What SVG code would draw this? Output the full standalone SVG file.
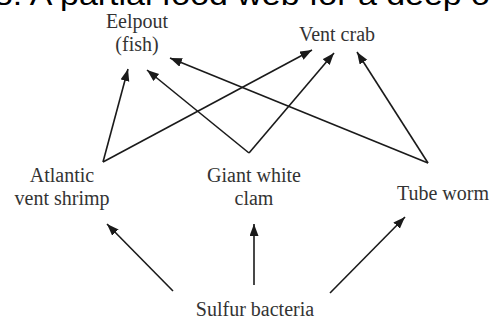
<svg xmlns="http://www.w3.org/2000/svg" width="493" height="322" viewBox="0 0 493 322">
<style>
.lbl{font-family:"Liberation Serif","Times New Roman",serif;font-size:20px;fill:#333;text-anchor:middle}
.hd{font-family:"Liberation Sans",Arial,sans-serif;font-size:30px;fill:#000}
.edge{stroke:#1a1a1a;stroke-width:1.6;fill:none}
</style>
<defs>
<marker id="ah" markerUnits="userSpaceOnUse" markerWidth="13" markerHeight="10" refX="12" refY="4.5" orient="auto">
<path d="M0,0 L12,4.5 L0,9 z" fill="#1a1a1a"/>
</marker>
</defs>
<rect width="493" height="322" fill="#fff"/>
<text class="hd" x="-6" y="5" textLength="496" lengthAdjust="spacingAndGlyphs">8. A partial food web for a deep o</text>
<g id="connectors">
<line class="edge" x1="103" y1="162" x2="128" y2="69" marker-end="url(#ah)"/>
<line class="edge" x1="103" y1="162" x2="312" y2="50" marker-end="url(#ah)"/>
<line class="edge" x1="249" y1="153" x2="147" y2="70" marker-end="url(#ah)"/>
<line class="edge" x1="249" y1="153" x2="334" y2="53" marker-end="url(#ah)"/>
<line class="edge" x1="428" y1="163" x2="170" y2="58" marker-end="url(#ah)"/>
<line class="edge" x1="428" y1="163" x2="357" y2="52" marker-end="url(#ah)"/>
<line class="edge" x1="173" y1="291" x2="107" y2="224" marker-end="url(#ah)"/>
<line class="edge" x1="254" y1="285" x2="254" y2="224" marker-end="url(#ah)"/>
<line class="edge" x1="330" y1="293" x2="405" y2="217" marker-end="url(#ah)"/>
</g>
<g id="eelpout"><text class="lbl" x="137" y="28">Eelpout</text><text class="lbl" x="137" y="51">(fish)</text></g>
<g id="ventcrab"><text class="lbl" x="337" y="41">Vent crab</text></g>
<g id="shrimp"><text class="lbl" x="62" y="182">Atlantic</text><text class="lbl" x="62" y="205">vent shrimp</text></g>
<g id="clam"><text class="lbl" x="254" y="182">Giant white</text><text class="lbl" x="254" y="205">clam</text></g>
<g id="tubeworm"><text class="lbl" x="443" y="200">Tube worm</text></g>
<g id="bacteria"><text class="lbl" x="255" y="316">Sulfur bacteria</text></g>
</svg>
